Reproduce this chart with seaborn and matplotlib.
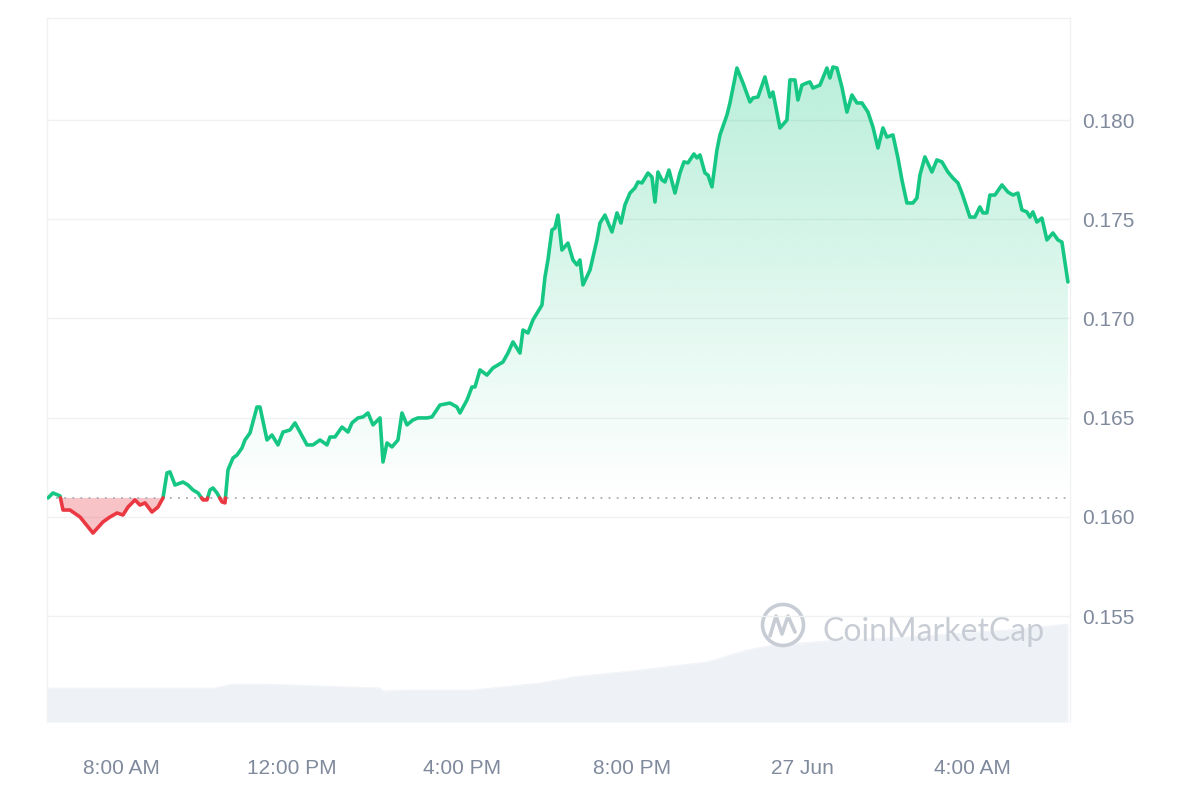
import numpy as np
import pandas as pd
import matplotlib
matplotlib.use("Agg")
import matplotlib.pyplot as plt
import seaborn as sns
from matplotlib.patches import Circle
from matplotlib.path import Path
from matplotlib.lines import Line2D

# ---------------- data (hours since midnight 26 Jun, price in USD) ----------------
hours = [6.274, 6.391, 6.556, 6.626, 6.791, 7.026, 7.331, 7.566, 7.731, 7.896,
         8.037, 8.154, 8.319, 8.436, 8.554, 8.718, 8.859, 8.977, 9.071, 9.141,
         9.259, 9.447, 9.565, 9.682, 9.800, 9.917, 10.011, 10.082, 10.152, 10.246,
         10.364, 10.434, 10.505, 10.622, 10.716, 10.834, 10.904, 11.022, 11.186, 11.257,
         11.422, 11.539, 11.680, 11.798, 11.962, 12.080, 12.197, 12.362, 12.503, 12.668,
         12.832, 12.903, 13.020, 13.185, 13.326, 13.420, 13.561, 13.678, 13.796, 13.914,
         14.078, 14.149, 14.243, 14.360, 14.501, 14.595, 14.713, 14.854, 14.971, 15.183,
         15.300, 15.488, 15.723, 15.888, 15.958, 16.123, 16.241, 16.311, 16.429, 16.593,
         16.734, 16.969, 17.087, 17.205, 17.369, 17.440, 17.557, 17.675, 17.886, 17.957,
         18.027, 18.121, 18.192, 18.262, 18.356, 18.497, 18.615, 18.709, 18.779, 18.850,
         19.015, 19.179, 19.250, 19.367, 19.532, 19.650, 19.744, 19.837, 19.955, 20.072,
         20.143, 20.237, 20.378, 20.472, 20.543, 20.613, 20.707, 20.778, 20.872, 21.013,
         21.130, 21.224, 21.318, 21.459, 21.530, 21.600, 21.718, 21.788, 21.883, 22.000,
         22.071, 22.235, 22.306, 22.470, 22.611, 22.776, 22.846, 22.964, 23.128, 23.246,
         23.316, 23.481, 23.645, 23.716, 23.834, 23.904, 23.998, 24.116, 24.186, 24.257,
         24.421, 24.586, 24.656, 24.727, 24.821, 24.938, 25.056, 25.174, 25.291, 25.409,
         25.550, 25.667, 25.785, 25.902, 25.996, 26.137, 26.255, 26.349, 26.466, 26.607,
         26.701, 26.772, 26.889, 27.054, 27.171, 27.289, 27.430, 27.547, 27.665, 27.759,
         27.830, 27.947, 28.065, 28.182, 28.253, 28.347, 28.417, 28.535, 28.700, 28.841,
         28.958, 29.076, 29.170, 29.287, 29.358, 29.428, 29.522, 29.640, 29.757, 29.898,
         30.016, 30.110, 30.251]

price = [0.16096, 0.16121, 0.16106, 0.16035, 0.16035, 0.16000, 0.15919, 0.15975, 0.16000, 0.16020,
         0.16010, 0.16050, 0.16086, 0.16060, 0.16071, 0.16025, 0.16050, 0.16096, 0.16222, 0.16227,
         0.16161, 0.16176, 0.16161, 0.16136, 0.16121, 0.16086, 0.16086, 0.16136, 0.16146, 0.16121,
         0.16076, 0.16071, 0.16237, 0.16297, 0.16312, 0.16348, 0.16388, 0.16423, 0.16554, 0.16554,
         0.16388, 0.16413, 0.16363, 0.16428, 0.16438, 0.16474, 0.16428, 0.16363, 0.16363, 0.16388,
         0.16363, 0.16403, 0.16403, 0.16453, 0.16428, 0.16474, 0.16499, 0.16504, 0.16524, 0.16464,
         0.16499, 0.16277, 0.16373, 0.16353, 0.16388, 0.16524, 0.16464, 0.16489, 0.16499, 0.16499,
         0.16504, 0.16564, 0.16574, 0.16554, 0.16524, 0.16589, 0.16655, 0.16655, 0.16741, 0.16715,
         0.16751, 0.16781, 0.16826, 0.16882, 0.16826, 0.16942, 0.16927, 0.16993, 0.17068, 0.17209,
         0.17295, 0.17446, 0.17456, 0.17521, 0.17345, 0.17380, 0.17295, 0.17270, 0.17295, 0.17169,
         0.17244, 0.17396, 0.17481, 0.17521, 0.17436, 0.17532, 0.17481, 0.17572, 0.17632, 0.17658,
         0.17688, 0.17683, 0.17733, 0.17713, 0.17587, 0.17738, 0.17698, 0.17688, 0.17748, 0.17632,
         0.17733, 0.17789, 0.17784, 0.17829, 0.17809, 0.17824, 0.17733, 0.17723, 0.17663, 0.17849,
         0.17925, 0.18025, 0.18086, 0.18262, 0.18187, 0.18091, 0.18111, 0.18116, 0.18217, 0.18116,
         0.18141, 0.17960, 0.18000, 0.18202, 0.18202, 0.18101, 0.18176, 0.18187, 0.18192, 0.18161,
         0.18176, 0.18262, 0.18212, 0.18267, 0.18262, 0.18166, 0.18040, 0.18126, 0.18086, 0.18086,
         0.18040, 0.17965, 0.17859, 0.17960, 0.17914, 0.17925, 0.17809, 0.17698, 0.17582, 0.17582,
         0.17607, 0.17723, 0.17814, 0.17738, 0.17799, 0.17789, 0.17738, 0.17708, 0.17683, 0.17632,
         0.17587, 0.17511, 0.17511, 0.17562, 0.17532, 0.17532, 0.17622, 0.17622, 0.17673, 0.17637,
         0.17622, 0.17632, 0.17547, 0.17537, 0.17511, 0.17537, 0.17486, 0.17506, 0.17396, 0.17431,
         0.17396, 0.17385, 0.17184]

# trading volume (relative units)
vol_hours = [6.25, 10.20, 10.60, 11.26, 12.67, 14.08, 14.15, 14.55, 16.26, 17.84,
             18.61, 20.19, 21.76, 22.70, 23.32, 24.89, 26.47, 28.82, 30.25]
volume = [34, 34, 38, 38, 36, 34, 31, 32, 32, 39,
          45, 52, 60, 72, 77, 82, 85, 92, 98]

y_ticks = [0.155, 0.160, 0.165, 0.170, 0.175, 0.180]
y_tick_labels = ["0.155", "0.160", "0.165", "0.170", "0.175", "0.180"]
x_tick_hours = [8, 12, 16, 20, 24, 28]
x_tick_labels = ["8:00 AM", "12:00 PM", "4:00 PM", "8:00 PM", "27 Jun", "4:00 AM"]

GREEN = "#16c784"
RED = "#ea3943"
TICK_COLOR = "#808a9d"
GRID_COLOR = "#eff1f3"

# ---------------- figure ----------------
sns.set_theme(style="white")
plt.rcParams['font.family'] = ['Liberation Sans', 'DejaVu Sans']

fig = plt.figure(figsize=(12, 8), dpi=100)
rect = [47 / 1200, 78 / 800, 1023 / 1200, 704 / 800]
axv = fig.add_axes(rect, zorder=0)
ax = fig.add_axes(rect, zorder=1)
ax.patch.set_visible(False)

xlim = (6.25, 30.30)
ylim = (0.14967, 0.18514)

# volume area
sns.lineplot(x=vol_hours, y=volume, ax=axv, color="#eef1f6", lw=0.5)
axv.fill_between(vol_hours, volume, 0, color="#eef1f6", lw=0)
axv.set_xlim(xlim)
axv.set_ylim(0, 704)
axv.set_xticks([])
axv.set_yticks([])
for s in axv.spines.values():
    s.set_visible(False)

# price with baseline crossing points inserted
t = np.array(hours)
v = np.array(price)
base = v[0]
tt, vv = [t[0]], [v[0]]
for i in range(1, len(t)):
    a, b = v[i - 1] - base, v[i] - base
    if a * b < 0:
        f = a / (a - b)
        tt.append(t[i - 1] + f * (t[i] - t[i - 1]))
        vv.append(base)
    tt.append(t[i])
    vv.append(v[i])
tt = np.array(tt)
vv = np.array(vv)

# segments by colour
rows = []
seg = 0
prev_col = None
for i in range(1, len(tt)):
    mid = (vv[i - 1] + vv[i]) / 2
    col = "up" if mid >= base else "down"
    if col != prev_col:
        seg += 1
        rows.append((seg, col, tt[i - 1], vv[i - 1]))
        prev_col = col
    rows.append((seg, col, tt[i], vv[i]))
df = pd.DataFrame(rows, columns=["seg", "dir", "hour", "price"])

# green gradient fill
up_poly = ax.fill_between(tt, vv, base, where=vv >= base, interpolate=True,
                          facecolor="none", edgecolor="none")
grad = np.zeros((256, 1, 4))
g = matplotlib.colors.to_rgb(GREEN)
grad[..., 0], grad[..., 1], grad[..., 2] = g
grad[:, 0, 3] = np.linspace(0.33, 0.0, 256)
im = ax.imshow(grad, extent=[xlim[0], xlim[1], base, ylim[1]], aspect="auto",
               origin="upper", zorder=1, interpolation="bilinear")
paths = up_poly.get_paths()
clip = Path.make_compound_path(*paths)
im.set_clip_path(clip, transform=ax.transData)

# red fill
ax.fill_between(tt, vv, base, where=vv <= base, interpolate=True,
                facecolor=RED, alpha=0.3, edgecolor="none", zorder=1)

# baseline dotted
ax.plot([t[0], t[-1]], [base, base], color="#a6acb5", lw=1.3,
        linestyle=(0, (1, 3.5)), zorder=2)

sns.lineplot(data=df, x="hour", y="price", hue="dir", units="seg", estimator=None,
             sort=False, palette={"up": GREEN, "down": RED}, lw=2.6, legend=False,
             ax=ax, zorder=3)

ax.set_xlim(xlim)
ax.set_ylim(ylim)
ax.set_xlabel("")
ax.set_ylabel("")
ax.set_yticks(y_ticks, y_tick_labels)
ax.set_xticks(x_tick_hours, x_tick_labels)
ax.yaxis.tick_right()
ax.tick_params(axis="y", length=0, pad=9, labelsize=15, labelcolor=TICK_COLOR)
ax.tick_params(axis="x", length=0, pad=26.5, labelsize=15, labelcolor=TICK_COLOR)
ax.grid(axis="y", color=GRID_COLOR, lw=1)
ax.set_axisbelow(True)
for s in ["left", "right", "top"]:
    ax.spines[s].set_color("#f0f1f3")
    ax.spines[s].set_linewidth(1)
ax.spines["bottom"].set_visible(False)

# watermark
wm = "#c8cdd5"
fig.add_artist(Circle((7.83, 1.75), 0.205, transform=fig.dpi_scale_trans,
                      facecolor="none", edgecolor=wm, lw=2.6, zorder=0.5))
fig.add_artist(Line2D([7.70, 7.76, 7.82, 7.88, 7.95],
                      [1.64, 1.84, 1.66, 1.84, 1.68],
                      transform=fig.dpi_scale_trans, color=wm, lw=2.6, zorder=0.5))
fig.text(823 / 1200, 1 - 641 / 800, "CoinMarketCap", fontsize=23, color=wm,
         family=["Lato", "DejaVu Sans"], ha="left", va="baseline", zorder=0.5)

fig.savefig("out.png", dpi=100, facecolor="white")
